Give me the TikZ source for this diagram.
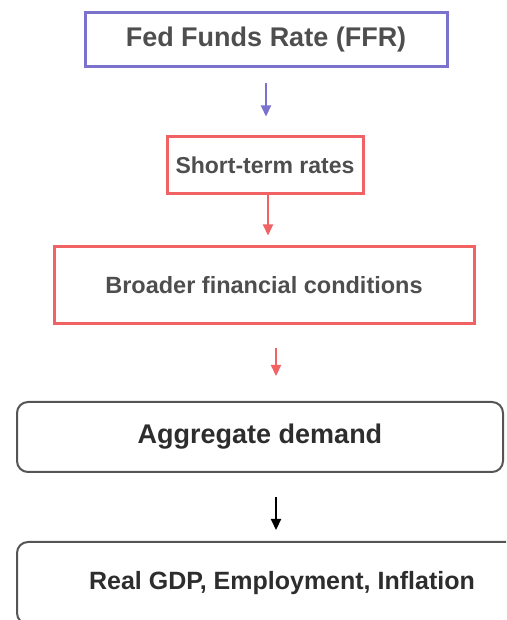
\documentclass[tikz,border=0pt]{standalone}
\usepackage{fontspec}
\setmainfont{Liberation Sans}
\usepackage{tikz}
\usetikzlibrary{arrows.meta}

\definecolor{ffrblue}{RGB}{122,114,204}
\definecolor{finred}{RGB}{240,98,100}
\definecolor{boxgray}{RGB}{85,85,85}
\definecolor{txtgray}{RGB}{78,78,78}
\definecolor{txtdark}{RGB}{45,45,45}

\begin{document}
\begin{tikzpicture}[x=1pt,y=1pt,
    stage/.style={draw,inner sep=0pt,font=\bfseries,line width=3pt,text=txtgray},
    econ/.style={draw=boxgray,line width=2pt,rounded corners=11pt,inner sep=0pt,
      font=\bfseries,text=txtdark},
    link/.style={line width=2.2pt,-{Triangle[length=11pt,width=10pt]}}]
  \useasboundingbox (0,0) rectangle (506,620);
  \clip (0,0) rectangle (506,620);
  % transmission chain, top to bottom
  \node[stage,draw=ffrblue,minimum width=362,minimum height=54,
    font=\bfseries\fontsize{27}{32}\selectfont] (ffr) at (266,580) {Fed Funds Rate (FFR)};
  \node[stage,draw=finred,minimum width=196,minimum height=57,
    font=\bfseries\fontsize{23}{28}\selectfont] (short) at (265,454.5) {Short-term rates};
  \node[stage,draw=finred,minimum width=420,minimum height=77,
    font=\bfseries\fontsize{23.5}{28}\selectfont] (broad) at (264,334.5) {Broader financial conditions};
  \node[econ,minimum width=486,minimum height=70,
    font=\bfseries\fontsize{27}{32}\selectfont] (demand) at (260,183) {Aggregate demand};
  \node[econ,minimum width=530,minimum height=82,
    font=\bfseries\fontsize{25}{30}\selectfont] (real) at (282,37) {Real GDP, Employment, Inflation};
  % arrows
  \draw[link,ffrblue,shorten <=15pt,shorten >=19pt] (ffr.south) -- ([xshift=1pt]short.north);
  \draw[link,finred,shorten >=10pt] ([xshift=3pt]short.south) -- ([xshift=4pt]broad.north);
  \draw[link,finred,shorten <=23pt,shorten >=25pt] ([xshift=12pt]broad.south) -- ([xshift=16pt]demand.north);
  \draw[link,black,shorten <=24pt,shorten >=11pt] ([xshift=16pt]demand.south) -- ([xshift=-6pt]real.north);
\end{tikzpicture}
\end{document}
